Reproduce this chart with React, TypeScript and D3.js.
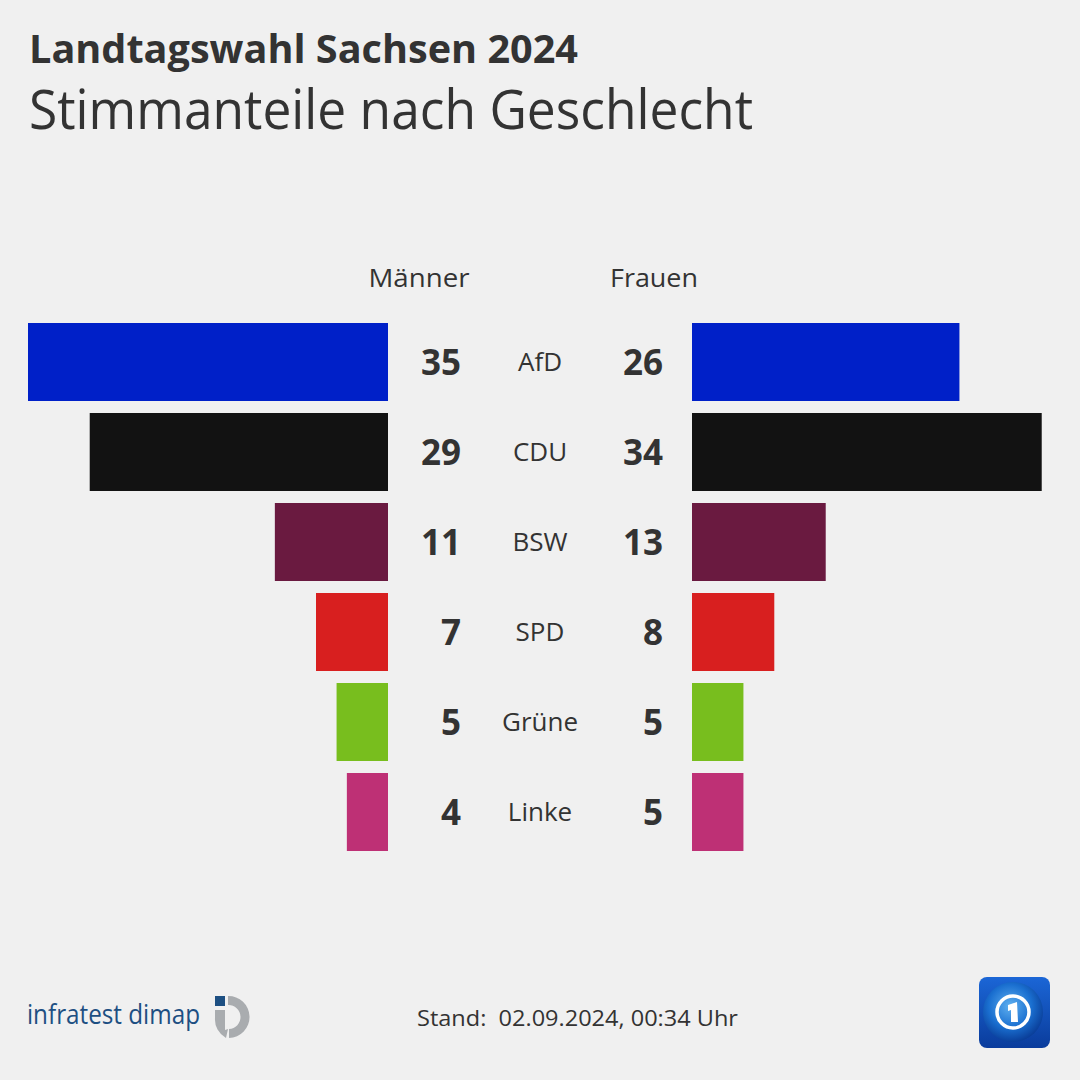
import React from "react";
import * as d3 from "d3";

const parties = ["AfD", "CDU", "BSW", "SPD", "Grüne", "Linke"];
const men = [35, 29, 11, 7, 5, 4];
const women = [26, 34, 13, 8, 5, 5];
const colors = ["#0020c8", "#121212", "#6a1a40", "#d81f1f", "#78be1e", "#be3075"];
const title = "Landtagswahl Sachsen 2024";
const subtitle = "Stimmanteile nach Geschlecht";
const groupLabels = ["Männer", "Frauen"];
const stand = "Stand:  02.09.2024, 00:34 Uhr";

const FONT = "'Open Sans', 'Noto Sans', sans-serif";
const TEXT = "#333333";

export default function App() {
  const w = d3.scaleLinear().domain([0, 35]).range([0, 360]);
  const y = d3.scaleBand<string>().domain(parties).range([323, 851]).paddingInner(12 / 90).paddingOuter(0);
  const menRight = 388;
  const womenLeft = 692;
  return (
    <svg width={1080} height={1080} style={{ position: "fixed", left: 0, top: 0 }} fontFamily={FONT}>
      <defs>
        <radialGradient id="globe" cx="45%" cy="40%" r="60%">
          <stop offset="0%" stopColor="#5fb0f0" />
          <stop offset="60%" stopColor="#1a6fd0" />
          <stop offset="100%" stopColor="#0a3f9a" />
        </radialGradient>
        <linearGradient id="tile" x1="0" y1="0" x2="0" y2="1">
          <stop offset="0%" stopColor="#1b66d6" />
          <stop offset="100%" stopColor="#0a3c9c" />
        </linearGradient>
      </defs>
      <rect width={1080} height={1080} fill="#f0f0f0" />
      <text x={29} y={63} fontSize={40} fontWeight={700} fill={TEXT} textLength={549} lengthAdjust="spacingAndGlyphs">{title}</text>
      <text x={29} y={129} fontSize={54} fill={TEXT} textLength={724} lengthAdjust="spacingAndGlyphs">{subtitle}</text>

      <text x={419} y={287} fontSize={26} fill={TEXT} textAnchor="middle" textLength={101} lengthAdjust="spacingAndGlyphs">{groupLabels[0]}</text>
      <text x={654} y={287} fontSize={26} fill={TEXT} textAnchor="middle" textLength={88} lengthAdjust="spacingAndGlyphs">{groupLabels[1]}</text>

      {parties.map((p, i) => {
        const y0 = y(p)!;
        const bw = y.bandwidth();
        const cy = y0 + bw / 2;
        return (
          <g key={p}>
            <rect x={menRight - w(men[i])} y={y0} width={w(men[i])} height={bw} fill={colors[i]} />
            <rect x={womenLeft} y={y0} width={w(women[i])} height={bw} fill={colors[i]} />
            <text x={461} y={cy} dy="0.36em" fontSize={35} fontWeight={700} fill={TEXT} textAnchor="end">{men[i]}</text>
            <text x={540} y={cy} dy="0.35em" fontSize={26} fill={TEXT} textAnchor="middle">{p}</text>
            <text x={663} y={cy} dy="0.36em" fontSize={35} fontWeight={700} fill={TEXT} textAnchor="end">{women[i]}</text>
          </g>
        );
      })}

      {/* infratest dimap logo */}
      <text x={27} y={1024} fontSize={27} fill="#1d4f82" textLength={173} lengthAdjust="spacingAndGlyphs">infratest dimap</text>
      <rect x={215} y={996} width={10} height={10} fill="#1d4f82" />
      <path d="M 228 996 A 21 21 0 1 1 229 1038 L 229 1029 A 12 12 0 1 0 228 1005 Z" fill="#a9acaf" />
      <path d="M 215 1010 L 225 1010 L 225 1030 A 12 12 0 0 0 228 1029 L 226 1038 A 21 21 0 0 1 215 1018 Z" fill="#a9acaf" />

      <text x={417} y={1026} fontSize={22} fill={TEXT} style={{ whiteSpace: "pre" }} textLength={321} lengthAdjust="spacingAndGlyphs">{stand}</text>

      {/* ARD logo */}
      <rect x={979} y={977} width={71} height={71} rx={8} fill="url(#tile)" />
      <circle cx={1013} cy={1012} r={30} fill="url(#globe)" />
      <circle cx={1013} cy={1012} r={16} fill="none" stroke="#ffffff" strokeWidth={3.5} />
      <path d="M 1008 1005 L 1017 1002 L 1018 1022 L 1011 1022 L 1011 1010 L 1008 1011 Z" fill="#ffffff" />
    </svg>
  );
}
